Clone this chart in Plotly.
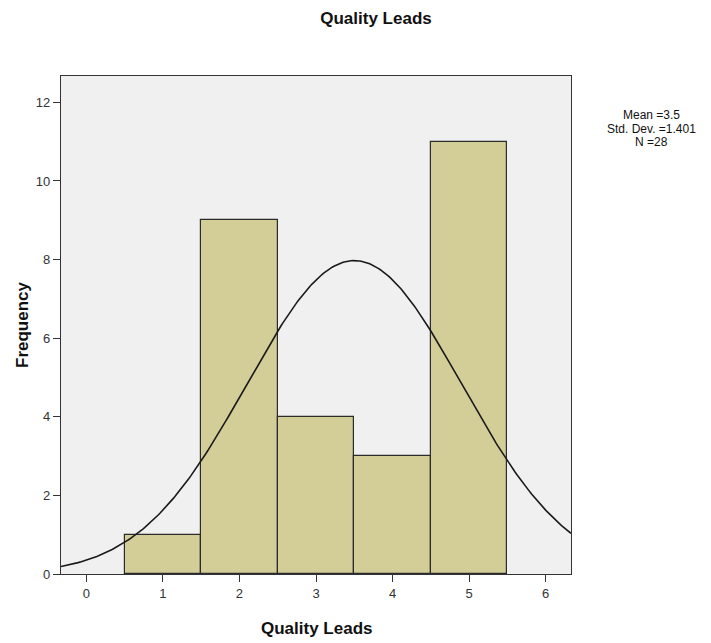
import numpy as np
import plotly.graph_objects as go

# Data
categories = [1, 2, 3, 4, 5]
frequencies = [1, 9, 4, 3, 11]
mean_val = 3.5
std_val = 1.401
n_val = 28
x_ticks = [0, 1, 2, 3, 4, 5, 6]
y_ticks = [0, 2, 4, 6, 8, 10, 12]
stat_lines = [f"Mean ={mean_val}", f"Std. Dev. ={std_val}", f"N ={n_val}"]

x_range = [-0.33, 6.33]
y_range = [0, 12.67]

# Normal curve scaled to histogram (bin width 1)
xc = np.linspace(x_range[0], x_range[1], 300)
yc = n_val * 1.0 / (std_val * np.sqrt(2 * np.pi)) * np.exp(-0.5 * ((xc - mean_val) / std_val) ** 2)

W, H = 703, 635
L, R, T, B = 53, 140, 68, 69
plot_w = W - L - R
plot_h = H - T - B

fig = go.Figure()
fig.add_trace(go.Bar(
    x=categories, y=frequencies, width=1.0,
    marker=dict(color="#d3ce98", line=dict(color="#2b2b2b", width=1.2)),
    hoverinfo="x+y", showlegend=False,
))
fig.add_trace(go.Scatter(
    x=xc, y=yc, mode="lines",
    line=dict(color="#1a1a1a", width=1.6), showlegend=False, hoverinfo="skip",
))

annots = []
for txt, py in zip(stat_lines, [39, 53, 66]):
    annots.append(dict(
        text=txt, xref="paper", yref="paper", x=1.0 + (652 - 571) / plot_w, y=1 - py / plot_h,
        xanchor="center", yanchor="middle", showarrow=False,
        font=dict(size=12, color="#111111"),
    ))
# axis titles
annots.append(dict(
    text="<b>Quality Leads</b>", xref="paper", yref="paper", x=0.5, y=-54 / plot_h,
    xanchor="center", yanchor="middle", showarrow=False, font=dict(size=17, color="#111111"),
))
annots.append(dict(
    text="<b>Frequency</b>", xref="paper", yref="paper", x=-39 / plot_w, y=0.5, textangle=-90,
    xanchor="center", yanchor="middle", showarrow=False, font=dict(size=17, color="#111111"),
))

fig.update_layout(
    width=W, height=H,
    margin=dict(l=L, r=R, t=T, b=B),
    paper_bgcolor="white", plot_bgcolor="#f0f0f0",
    font=dict(family="Liberation Sans, Arial, sans-serif", color="#222222"),
    title=dict(text="<b>Quality Leads</b>", x=368 / W, xanchor="center", y=1 - 10 / H, yanchor="middle",
               font=dict(size=17, color="#111111")),
    bargap=0,
    xaxis=dict(range=x_range, tickvals=x_ticks, ticks="outside", ticklen=7, tickwidth=1.3,
               tickcolor="#333333", showgrid=False, zeroline=False, showline=True, mirror=True,
               linecolor="#333333", linewidth=1.3, tickfont=dict(size=13, color="#333333"),
               automargin=False),
    yaxis=dict(range=y_range, tickvals=y_ticks, ticks="outside", ticklen=7, tickwidth=1.3,
               tickcolor="#333333", showgrid=False, zeroline=False, showline=True, mirror=True,
               linecolor="#333333", linewidth=1.3, tickfont=dict(size=13, color="#333333"),
               automargin=False),
    annotations=annots,
)

fig.write_html("out.html")
